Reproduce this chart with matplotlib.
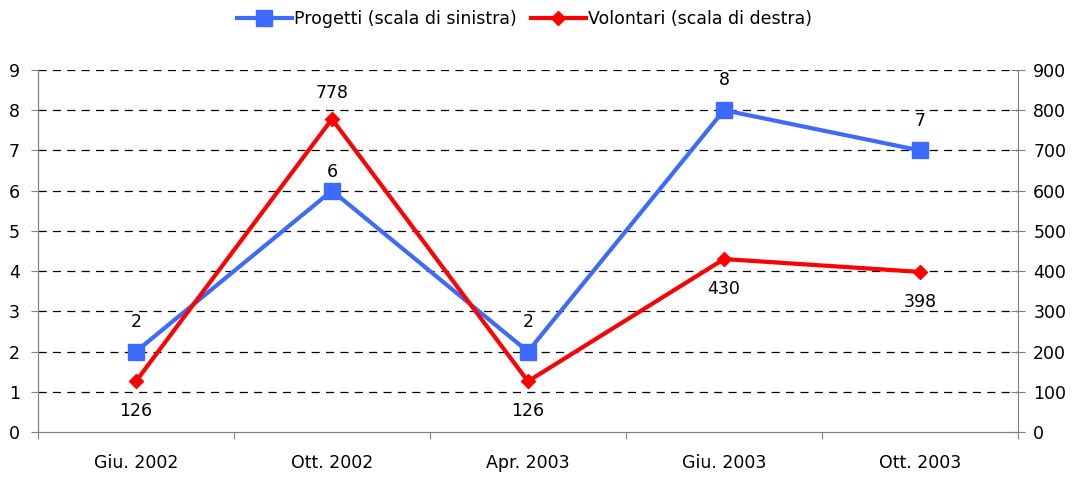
import numpy as np
import matplotlib
matplotlib.use("Agg")
import matplotlib.pyplot as plt

# dati
periodi = ["Giu. 2002", "Ott. 2002", "Apr. 2003", "Giu. 2003", "Ott. 2003"]
progetti = [2, 6, 2, 8, 7]
volontari = [126, 778, 126, 430, 398]

blu = "#3D6BFF"
rosso = "#FF0000"
asse = "#808080"
fs = 12.5

# scostamento delle etichette (punti): positivo = sopra, negativo = sotto
off_prog = [15, 7, 15, 15, 15]
off_vol = [-15, 12, -15, -15, -15]

plt.rcParams["font.family"] = ["Verdana", "DejaVu Sans"]
plt.rcParams["font.size"] = fs

fig = plt.figure(figsize=(10.72, 4.78), dpi=100)
ax = fig.add_axes([0.0354, 0.0962, 0.9142, 0.7574])
ax2 = ax.twinx()

x = np.arange(len(periodi))

l1, = ax.plot(x, progetti, color=blu, lw=3, marker="s", ms=11, zorder=3,
              label="Progetti (scala di sinistra)")
l2, = ax2.plot(x, volontari, color=rosso, lw=3, marker="D", ms=7, zorder=3,
               label="Volontari (scala di destra)")

ax.set_xlim(-0.5, len(periodi) - 0.5)
ax.set_ylim(0, 9)
ax2.set_ylim(0, 900)
ax.set_yticks(range(0, 10))
ax2.set_yticks(range(0, 1000, 100))

# griglia tratteggiata
for v in range(1, 10):
    ax.axhline(v, color="black", lw=0.9, ls=(0, (6.5, 5)), zorder=1)

ax.set_xticks(np.arange(-0.5, len(periodi), 1))
ax.set_xticklabels([])
ax.set_xticks(x, minor=True)
ax.set_xticklabels(periodi, minor=True)
ax.tick_params(axis="x", which="minor", length=0, pad=16, labelsize=fs)
ax.tick_params(axis="x", which="major", length=5, direction="out", color=asse)
ax.tick_params(axis="y", length=5, direction="out", color=asse, labelsize=fs, pad=8)
ax2.tick_params(axis="y", length=10, direction="inout", color=asse, labelsize=fs, pad=6)

for a in (ax, ax2):
    a.spines["top"].set_visible(False)
    for s in ("left", "right", "bottom"):
        a.spines[s].set_color(asse)
ax.spines["right"].set_visible(False)

# etichette dei valori
for xi, p, o in zip(x, progetti, off_prog):
    ax.annotate(str(p), (xi, p), xytext=(0, o), textcoords="offset points",
                ha="center", va="bottom" if o > 0 else "top", fontsize=fs)
for xi, v, o in zip(x, volontari, off_vol):
    ax2.annotate(str(v), (xi, v), xytext=(0, o), textcoords="offset points",
                 ha="center", va="bottom" if o > 0 else "top", fontsize=fs)

fig.legend(handles=[l1, l2], loc="upper center", bbox_to_anchor=(0.489, 1.012),
           ncol=2, frameon=False, fontsize=fs, handlelength=3.2,
           handletextpad=0.1, columnspacing=0.8)

fig.savefig("out.png", dpi=100)
